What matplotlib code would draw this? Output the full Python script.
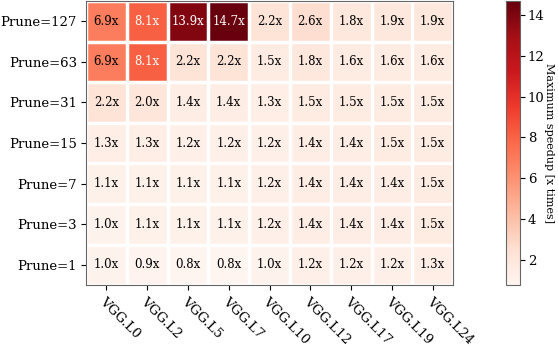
import numpy as np
import matplotlib.pyplot as plt

layers = ["VGG.L0", "VGG.L2", "VGG.L5", "VGG.L7", "VGG.L10",
          "VGG.L12", "VGG.L17", "VGG.L19", "VGG.L24"]
prunes = ["Prune=127", "Prune=63", "Prune=31", "Prune=15",
          "Prune=7", "Prune=3", "Prune=1"]

row_127 = [6.9, 8.1, 13.9, 14.7, 2.2, 2.6, 1.8, 1.9, 1.9]
row_63 = [6.9, 8.1, 2.2, 2.2, 1.5, 1.8, 1.6, 1.6, 1.6]
row_31 = [2.2, 2.0, 1.4, 1.4, 1.3, 1.5, 1.5, 1.5, 1.5]
row_15 = [1.3, 1.3, 1.2, 1.2, 1.2, 1.4, 1.4, 1.5, 1.5]
row_7 = [1.1, 1.1, 1.1, 1.1, 1.2, 1.4, 1.4, 1.4, 1.5]
row_3 = [1.0, 1.1, 1.1, 1.1, 1.2, 1.4, 1.4, 1.4, 1.5]
row_1 = [1.0, 0.9, 0.8, 0.8, 1.0, 1.2, 1.2, 1.2, 1.3]

plt.rcParams["font.family"] = "DejaVu Serif"

speedup = np.array([row_127, row_63, row_31, row_15, row_7, row_3, row_1])

fig = plt.figure(figsize=(5.58, 3.46), dpi=100)
ax = fig.add_axes([0.154, 0.176, 0.658, 0.821])
cax = fig.add_axes([0.907, 0.176, 0.025, 0.821])

im = ax.imshow(speedup, cmap="Reds", vmin=0.75, vmax=speedup.max(), aspect="auto")
cbar = fig.colorbar(im, cax=cax)
cbar.set_label("Maximum speedup [x times]", rotation=270, labelpad=7, fontsize=8)
cbar.ax.tick_params(labelsize=9.5, colors="black", pad=2)
cbar.outline.set_edgecolor("#666666")
cbar.set_ticks([2, 4, 6, 8, 10, 12, 14])

ax.set_xticks(np.arange(len(layers)))
ax.set_yticks(np.arange(len(prunes)))
ax.set_xticklabels(layers, fontsize=9.5)
ax.set_yticklabels(prunes, fontsize=9.5)
ax.tick_params(axis="y", pad=3)
plt.setp(ax.get_xticklabels(), rotation=-45, ha="left", va="top",
         rotation_mode="anchor")

ax.set_xticks(np.arange(len(layers) + 1) - 0.5, minor=True)
ax.set_yticks(np.arange(len(prunes) + 1) - 0.5, minor=True)
ax.grid(which="minor", color="white", linestyle="-", linewidth=2.5)
ax.tick_params(which="minor", bottom=False, left=False)
for spine in ax.spines.values():
    spine.set_edgecolor("#666666")

threshold = speedup.max() / 2
for i in range(speedup.shape[0]):
    for j in range(speedup.shape[1]):
        v = speedup[i, j]
        ax.text(j, i, f"{v:.1f}x", ha="center", va="center", fontsize=8.5,
                color="white" if v > threshold else "black")

fig.savefig("out.png", dpi=100)
